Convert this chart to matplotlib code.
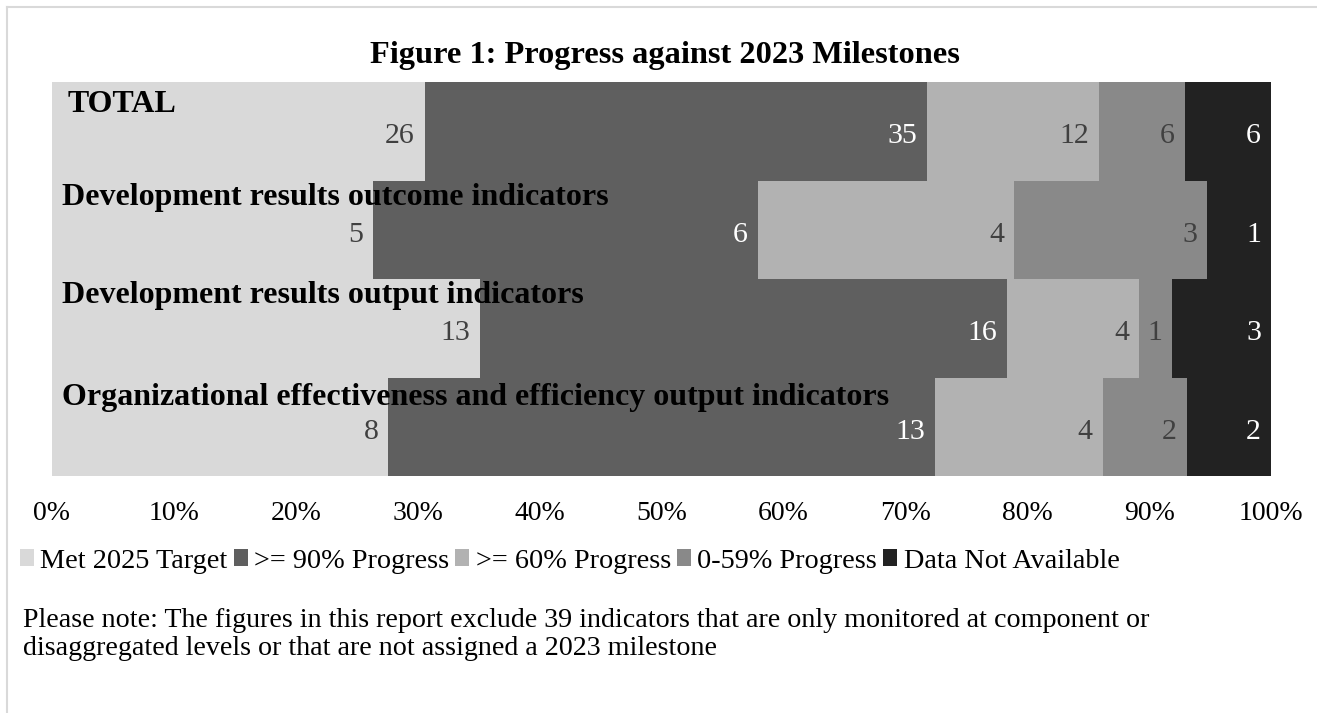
import numpy as np
import matplotlib.pyplot as plt
from matplotlib.lines import Line2D

plt.rcParams['font.family'] = ['Liberation Serif', 'DejaVu Serif']

# data (indicator counts)
categories = ["TOTAL",
              "Development results outcome indicators",
              "Development results output indicators",
              "Organizational effectiveness and efficiency output indicators"]
series_names = ["Met 2025 Target", ">= 90% Progress", ">= 60% Progress",
                "0-59% Progress", "Data Not Available"]
met_target = [26, 5, 13, 8]
progress_90 = [35, 6, 16, 13]
progress_60 = [12, 4, 4, 4]
progress_0_59 = [6, 3, 1, 2]
not_available = [6, 1, 3, 2]
x_ticks = [0, 10, 20, 30, 40, 50, 60, 70, 80, 90, 100]

colors = ["#d9d9d9", "#5f5f5f", "#b2b2b2", "#898989", "#222222"]
label_colors = ["#404040", "white", "#404040", "#404040", "white"]
# pixel offsets (dx, dy below bar top) of the bold category labels
cat_offsets = [(16, 30), (10, 24), (10, 24), (10, 27)]

W, H = 1317, 713
fig = plt.figure(figsize=(W / 100, H / 100), dpi=100)
ax = fig.add_axes([52 / W, 1 - 476 / H, (1271 - 52) / W, (476 - 82) / H])

counts = np.array([met_target, progress_90, progress_60, progress_0_59, not_available], dtype=float)
shares = counts / counts.sum(axis=0) * 100
y = np.arange(len(categories))

left = np.zeros(len(categories))
for i, name in enumerate(series_names):
    ax.barh(y, shares[i], left=left, height=1.0, color=colors[i], label=name)
    for j in range(len(categories)):
        ax.annotate(f"{int(counts[i, j])}", xy=(left[j] + shares[i, j], y[j]),
                    xytext=(-10, -12), textcoords='offset pixels',
                    ha='right', va='baseline', fontsize=21.5, color=label_colors[i])
    left += shares[i]

for j, cat in enumerate(categories):
    dx, dy = cat_offsets[j]
    ax.annotate(cat, xy=(0, y[j] - 0.5), xytext=(dx, -dy), textcoords='offset pixels',
                ha='left', va='baseline', fontsize=23, fontweight='bold', color='black')

ax.set_xlim(0, 100)
ax.set_ylim(len(categories) - 0.5, -0.5)
ax.set_xticks(x_ticks)
ax.set_xticklabels([f"{t}%" for t in x_ticks], fontsize=20)
ax.set_yticks([])
ax.tick_params(axis='x', length=0, pad=18)
for s in ax.spines.values():
    s.set_visible(False)

fig.text(665 / W, 1 - 56 / H, "Figure 1: Progress against 2023 Milestones",
         ha='center', va='center', fontsize=23.3, fontweight='bold')

fig.legend(loc='center left', bbox_to_anchor=(20 / W, 1 - 561 / H), ncol=5,
           frameon=False, fontsize=20.3, handlelength=0.5, handleheight=0.5,
           handletextpad=0.22, columnspacing=0.22, borderpad=0, borderaxespad=0)

fig.text(23 / W, 1 - 655 / H,
         "Please note: The figures in this report exclude 39 indicators that are only monitored at component or\n"
         "disaggregated levels or that are not assigned a 2023 milestone",
         ha='left', va='baseline', fontsize=20.2, linespacing=1.17)

# light grey frame of the chart area
fig.add_artist(Line2D([7 / W, 1], [1 - 7 / H, 1 - 7 / H], color="#d9d9d9", lw=1.5))
fig.add_artist(Line2D([7 / W, 7 / W], [0, 1 - 7 / H], color="#d9d9d9", lw=1.5))

fig.savefig("out.png", dpi=100)
